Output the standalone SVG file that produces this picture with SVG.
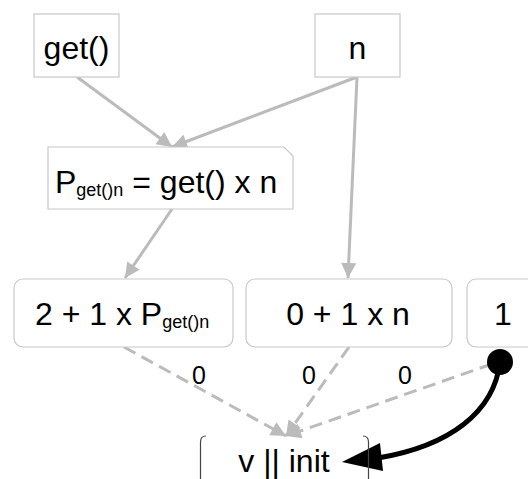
<svg xmlns="http://www.w3.org/2000/svg" width="528" height="479" viewBox="0 0 528 479">
<defs>
<style>
.box{fill:#fff;stroke:#c8c8c8;stroke-width:1.2}
.t{font-family:"Liberation Sans",Arial,sans-serif;font-size:32px;fill:#000}
.sub{font-size:18px}
.lbl{font-family:"Liberation Sans",Arial,sans-serif;font-size:25px;fill:#000;text-anchor:middle}
.e{stroke:#bbb;stroke-width:3;fill:none}
.d{stroke:#bbb;stroke-width:3;fill:none;stroke-dasharray:13 7}
</style>
<marker id="ah" viewBox="0 0 10 10" refX="10" refY="5" markerWidth="5.5" markerHeight="5" markerUnits="strokeWidth" orient="auto">
<path d="M0,0 L10,5 L0,10 z" fill="#bbb"/>
</marker>
</defs>
<g id="connectors">
<line class="e" x1="77" y1="77" x2="172" y2="147" marker-end="url(#ah)"/>
<line class="e" x1="357" y1="77" x2="172" y2="147" marker-end="url(#ah)"/>
<line class="e" x1="357" y1="77" x2="348" y2="278" marker-end="url(#ah)"/>
<line class="e" x1="172" y1="209" x2="125" y2="278" marker-end="url(#ah)"/>
<line class="d" x1="124" y1="347" x2="286" y2="436" marker-end="url(#ah)"/>
<line class="d" x1="349" y1="347" x2="286" y2="436" marker-end="url(#ah)"/>
<line class="d" x1="492" y1="364" x2="286" y2="436" marker-end="url(#ah)"/>
<text class="lbl" x="199" y="384">0</text>
<text class="lbl" x="309" y="384">0</text>
<text class="lbl" x="405" y="384">0</text>
<path d="M500,362 C494,412 450,446 378,458" stroke="#000" stroke-width="5" fill="none"/>
<path d="M342,462 L380,443 L383,471 Z" fill="#000"/>
<circle cx="500" cy="362" r="13" fill="#000"/>
</g>
<g id="node-get">
<rect class="box" x="34" y="14" width="85" height="63"/>
<text class="t" x="76.5" y="59" text-anchor="middle">get()</text>
</g>
<g id="node-n">
<rect class="box" x="315" y="14" width="85" height="63"/>
<text class="t" x="357.5" y="59" text-anchor="middle">n</text>
</g>
<g id="node-formula">
<path class="box" d="M48,147 H284 L293,156 V209 H48 Z"/>
<text class="t" x="55" y="193">P<tspan class="sub" dy="3">get()n</tspan><tspan dy="-3"> = get() x n</tspan></text>
</g>
<g id="node-sum1">
<rect class="box" x="14" y="279" width="219" height="68" rx="9"/>
<text class="t" x="35" y="325">2 + 1 x P<tspan class="sub" dy="3">get()n</tspan></text>
</g>
<g id="node-sum2">
<rect class="box" x="246" y="279" width="206" height="68" rx="9"/>
<text class="t" x="348" y="325" text-anchor="middle">0 + 1 x n</text>
</g>
<g id="node-one">
<rect class="box" x="467" y="279" width="80" height="68" rx="9"/>
<text class="t" x="503" y="325" text-anchor="middle">1</text>
</g>
<g id="node-init">
<path d="M206,436 Q200.5,436 200.5,442 V479 M363,436 Q368.5,436 368.5,442 V479" stroke="#444" stroke-width="1.2" fill="none"/>
<text class="t" x="284" y="472" text-anchor="middle">v || init</text>
</g>
</svg>
